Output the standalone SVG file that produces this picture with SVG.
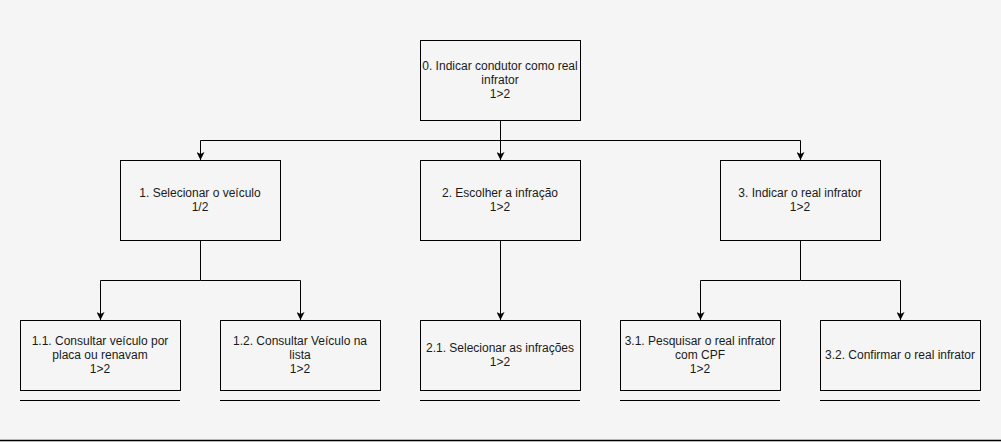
<svg xmlns="http://www.w3.org/2000/svg" width="1001" height="442" viewBox="0 0 1001 442">
<style>
.box{fill:#f5f5f5;stroke:#000;stroke-width:1}
.t{font-family:"Liberation Sans",Arial,sans-serif;font-size:12px;fill:#1a1a1a;text-anchor:middle}
.c{fill:none;stroke:#000;stroke-width:1}
.u{stroke:#000;stroke-width:1}
</style>
<defs>
<marker id="a" viewBox="0 0 10 10" refX="10" refY="5" markerWidth="8" markerHeight="8" markerUnits="userSpaceOnUse" orient="auto">
<path d="M0,0 L10,5 L0,10 L2.5,5 Z" fill="#000"/>
</marker>
</defs>
<rect width="1001" height="442" fill="#f5f5f5"/>
<line x1="0" y1="440.5" x2="1001" y2="440.5" stroke="#000" stroke-width="1.5"/>
<g id="connectors">
<path class="c" d="M500.5,120 V140.5 H200.5 V160" marker-end="url(#a)"/>
<path class="c" d="M500.5,140 V160" marker-end="url(#a)"/>
<path class="c" d="M500.5,140.5 H800.5 V160" marker-end="url(#a)"/>
<path class="c" d="M200.5,240 V280.5 H100.5 V320" marker-end="url(#a)"/>
<path class="c" d="M200.5,280.5 H300.5 V320" marker-end="url(#a)"/>
<path class="c" d="M500.5,240 V320" marker-end="url(#a)"/>
<path class="c" d="M800.5,240 V280.5 H700.5 V320" marker-end="url(#a)"/>
<path class="c" d="M800.5,280.5 H900.5 V320" marker-end="url(#a)"/>
</g>
<g id="n0"><rect class="box" x="420.5" y="40.5" width="160" height="80"/>
<text class="t" x="500" y="70">0. Indicar condutor como real</text><text class="t" x="500" y="84">infrator</text><text class="t" x="500" y="98">1&gt;2</text></g>
<g id="n1"><rect class="box" x="120.5" y="160.5" width="160" height="80"/>
<text class="t" x="200" y="197">1. Selecionar o veículo</text><text class="t" x="200" y="211">1/2</text></g>
<g id="n2"><rect class="box" x="420.5" y="160.5" width="160" height="80"/>
<text class="t" x="500" y="197">2. Escolher a infração</text><text class="t" x="500" y="211">1&gt;2</text></g>
<g id="n3"><rect class="box" x="720.5" y="160.5" width="160" height="80"/>
<text class="t" x="800" y="197">3. Indicar o real infrator</text><text class="t" x="800" y="211">1&gt;2</text></g>
<g id="n11"><rect class="box" x="20.5" y="320.5" width="160" height="70"/>
<text class="t" x="100" y="345">1.1. Consultar veículo por</text><text class="t" x="100" y="359">placa ou renavam</text><text class="t" x="100" y="373">1&gt;2</text>
<line class="u" x1="20" y1="400.5" x2="180" y2="400.5"/></g>
<g id="n12"><rect class="box" x="220.5" y="320.5" width="160" height="70"/>
<text class="t" x="300" y="345">1.2. Consultar Veículo na</text><text class="t" x="300" y="359">lista</text><text class="t" x="300" y="373">1&gt;2</text>
<line class="u" x1="220" y1="400.5" x2="380" y2="400.5"/></g>
<g id="n21"><rect class="box" x="420.5" y="320.5" width="160" height="70"/>
<text class="t" x="500" y="352">2.1. Selecionar as infrações</text><text class="t" x="500" y="366">1&gt;2</text>
<line class="u" x1="420" y1="400.5" x2="580" y2="400.5"/></g>
<g id="n31"><rect class="box" x="620.5" y="320.5" width="160" height="70"/>
<text class="t" x="700" y="345">3.1. Pesquisar o real infrator</text><text class="t" x="700" y="359">com CPF</text><text class="t" x="700" y="373">1&gt;2</text>
<line class="u" x1="620" y1="400.5" x2="780" y2="400.5"/></g>
<g id="n32"><rect class="box" x="820.5" y="320.5" width="160" height="70"/>
<text class="t" x="900" y="359">3.2. Confirmar o real infrator</text>
<line class="u" x1="820" y1="400.5" x2="980" y2="400.5"/></g>
</svg>
